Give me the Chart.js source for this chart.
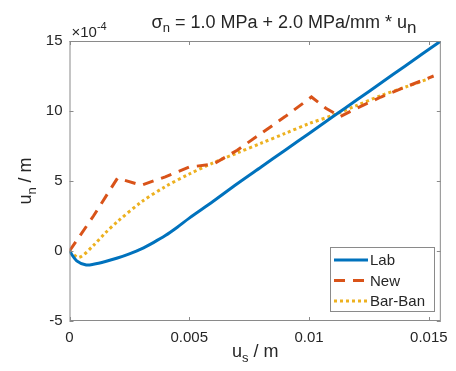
<!DOCTYPE html>
<html>
<head>
<meta charset="utf-8">
<script src="https://cdn.jsdelivr.net/npm/chart.js@4"></script>
<style>
  html, body { margin: 0; padding: 0; background: #fff; }
  #wrap { width: 456px; height: 371px; }
</style>
</head>
<body>
<div id="wrap"><canvas id="c" width="456" height="371"></canvas></div>
<script>
// values in units of 1e-4 m for u_n, metres for u_s
const labX = [0, 0.0003, 0.0007, 0.001, 0.0015, 0.002, 0.0025, 0.003, 0.0035, 0.004, 0.0045, 0.005, 0.006, 0.007, 0.008, 0.009, 0.01, 0.011, 0.012, 0.013, 0.014, 0.0155];
const labY = [0, -0.7, -1.0, -0.95, -0.75, -0.5, -0.2, 0.15, 0.6, 1.1, 1.7, 2.35, 3.55, 4.8, 6.0, 7.2, 8.4, 9.6, 10.8, 12.0, 13.2, 15.0];

const newX = [0, 0.001, 0.002, 0.003, 0.004, 0.005, 0.006, 0.007, 0.008, 0.009, 0.0101, 0.0107, 0.0113, 0.012, 0.013, 0.014, 0.0152];
const newY = [0, 2.5, 5.2, 4.7, 5.3, 6.0, 6.2, 7.2, 8.4, 9.6, 11.0, 10.2, 9.6, 10.2, 11.0, 11.7, 12.5];

const bbX = [0, 0.0004, 0.001, 0.0015, 0.002, 0.003, 0.004, 0.005, 0.006, 0.007, 0.008, 0.009, 0.01, 0.011, 0.012, 0.013, 0.014, 0.015];
const bbY = [0, -0.45, 0.4, 1.3, 2.1, 3.5, 4.6, 5.5, 6.3, 7.0, 7.7, 8.4, 9.1, 9.7, 10.4, 11.1, 11.7, 12.3];

const xTicks = [0, 0.005, 0.01, 0.015];
const xTickLabels = ['0', '0.005', '0.01', '0.015'];
const yTicks = [-5, 0, 5, 10, 15];

const seriesNames = ['Lab', 'New', 'Bar-Ban'];

function pts(xs, ys) { return xs.map((x, i) => ({ x: x, y: ys[i] })); }

const FONT = '"Liberation Sans", Arial, sans-serif';
const TXT = '#262626';
const AX = '#8a8a8a';

// text with sub parts: [text, subScale, drop]
function drawParts(ctx, parts, x, y, size, align) {
  let w = 0;
  const widths = parts.map(p => {
    ctx.font = Math.round(size * p[1]) + 'px ' + FONT;
    const m = ctx.measureText(p[0]).width;
    w += m;
    return m;
  });
  let cx = align === 'center' ? x - w / 2 : x;
  ctx.textAlign = 'left';
  ctx.textBaseline = 'alphabetic';
  parts.forEach((p, i) => {
    ctx.font = Math.round(size * p[1]) + 'px ' + FONT;
    ctx.fillText(p[0], cx, y + p[2]);
    cx += widths[i];
  });
}

const decor = {
  id: 'decor',
  afterDraw(chart) {
    const ctx = chart.ctx;
    const a = chart.chartArea;
    const xs = chart.scales.x, ys = chart.scales.y;
    ctx.save();
    // box
    ctx.strokeStyle = AX;
    ctx.lineWidth = 1;
    ctx.strokeRect(a.left + 0.5, a.top + 0.5, a.right - a.left - 1, a.bottom - a.top - 1);
    // inward ticks
    ctx.beginPath();
    xTicks.forEach(v => {
      const px = Math.round(xs.getPixelForValue(v)) + 0.5;
      ctx.moveTo(px, a.bottom); ctx.lineTo(px, a.bottom - 4);
      ctx.moveTo(px, a.top); ctx.lineTo(px, a.top + 4);
    });
    yTicks.forEach(v => {
      const py = Math.round(ys.getPixelForValue(v)) + 0.5;
      ctx.moveTo(a.left, py); ctx.lineTo(a.left + 4, py);
      ctx.moveTo(a.right, py); ctx.lineTo(a.right - 4, py);
    });
    ctx.stroke();

    ctx.fillStyle = TXT;
    // exponent label
    ctx.font = '15px ' + FONT;
    ctx.textAlign = 'left';
    ctx.textBaseline = 'alphabetic';
    ctx.fillText('\u00d710', a.left + 2, a.top - 4);
    const w10 = ctx.measureText('\u00d710').width;
    ctx.font = '11px ' + FONT;
    ctx.fillText('-4', a.left + 2 + w10, a.top - 11);

    // title
    drawParts(ctx, [['\u03c3', 1, 0], ['n', 0.7, 4], [' = 1.0 MPa + 2.0 MPa/mm * u', 1, 0], ['n', 0.95, 5]], 284, 28, 18, 'center');

    // x axis title
    drawParts(ctx, [['u', 1, 0], ['s', 0.7, 5], [' / m', 1, 0]], (a.left + a.right) / 2, 357, 18, 'center');

    // y axis title (rotated)
    ctx.save();
    ctx.translate(31, (a.top + a.bottom) / 2);
    ctx.rotate(-Math.PI / 2);
    drawParts(ctx, [['u', 1, 0], ['n', 0.7, 5], [' / m', 1, 0]], 0, 0, 18, 'center');
    ctx.restore();

    // legend inside axes, lower right
    const lx = 330, ly = 247, lw = 104, lh = 64;
    ctx.fillStyle = '#fff';
    ctx.fillRect(lx, ly, lw, lh);
    ctx.strokeStyle = AX;
    ctx.strokeRect(lx + 0.5, ly + 0.5, lw, lh);
    chart.data.datasets.forEach((ds, i) => {
      const yy = ly + 13 + i * 20.5;
      ctx.strokeStyle = ds.borderColor;
      ctx.lineWidth = ds.borderWidth;
      ctx.setLineDash(ds.borderDash || []);
      ctx.beginPath();
      ctx.moveTo(lx + 4, yy);
      ctx.lineTo(lx + 38, yy);
      ctx.stroke();
      ctx.setLineDash([]);
      ctx.fillStyle = TXT;
      ctx.font = '15px ' + FONT;
      ctx.textBaseline = 'middle';
      ctx.fillText(seriesNames[i], lx + 40, yy + 1);
    });
    ctx.restore();
  }
};

new Chart(document.getElementById('c').getContext('2d'), {
  type: 'scatter',
  data: {
    datasets: [
      { label: seriesNames[0], data: pts(labX, labY), showLine: true, borderColor: '#0072BD', borderWidth: 3, pointRadius: 0, tension: 0.3 },
      { label: seriesNames[1], data: pts(newX, newY), showLine: true, borderColor: '#D95319', borderWidth: 3, borderDash: [11, 8], pointRadius: 0, tension: 0 },
      { label: seriesNames[2], data: pts(bbX, bbY), showLine: true, borderColor: '#EDB120', borderWidth: 3, borderDash: [3, 3], pointRadius: 0, tension: 0.3 }
    ]
  },
  options: {
    responsive: false,
    animation: false,
    layout: { padding: { top: 41, right: 12, left: 0, bottom: 0 } },
    plugins: { legend: { display: false }, tooltip: { enabled: false } },
    scales: {
      x: {
        type: 'linear', min: 0, max: 0.0155,
        afterBuildTicks: s => { s.ticks = xTicks.map(v => ({ value: v })); },
        afterFit: s => { s.height = 50; },
        grid: { display: false, drawTicks: false },
        border: { display: false },
        ticks: {
          padding: 8, color: TXT, font: { family: FONT, size: 15 },
          callback: (v) => xTickLabels[xTicks.indexOf(v)], maxRotation: 0
        }
      },
      y: {
        type: 'linear', min: -5, max: 15,
        afterBuildTicks: s => { s.ticks = yTicks.map(v => ({ value: v })); },
        afterFit: s => { s.width = 69.5; },
        grid: { display: false, drawTicks: false },
        border: { display: false },
        ticks: { padding: 7, color: TXT, font: { family: FONT, size: 15 } }
      }
    }
  },
  plugins: [decor]
});
</script>
</body>
</html>
